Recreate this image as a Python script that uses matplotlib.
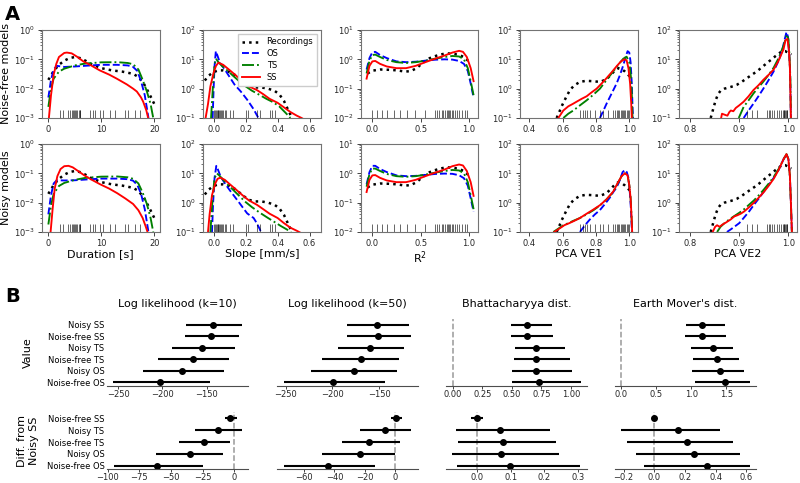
import numpy as np
import matplotlib
matplotlib.use("Agg")
import matplotlib.pyplot as plt

# ---------------- Panel A: density curves, (x, density) ----------------
# Duration [s]
dur_rec = [(0, 0.02), (1, 0.04), (2, 0.065), (3, 0.09), (4, 0.11), (5, 0.12), (6, 0.11), (7, 0.09),
           (8, 0.07), (10, 0.05), (12, 0.042), (14, 0.038), (16, 0.032), (17, 0.025), (18, 0.015),
           (19, 0.007), (20, 0.003)]
dur_os_nf = [(0, 0.005), (0.5, 0.02), (1, 0.045), (1.6, 0.06), (3, 0.055), (5, 0.057), (8, 0.062),
             (10, 0.065), (13, 0.065), (15, 0.062), (16, 0.055), (16.8, 0.04), (17.5, 0.018),
             (18.2, 0.006), (18.9, 0.001)]
dur_ts_nf = [(0, 0.0024), (0.5, 0.01), (1, 0.022), (2, 0.038), (3, 0.048), (5, 0.062), (7, 0.072),
             (10, 0.079), (13, 0.08), (15, 0.075), (16, 0.068), (17, 0.045), (17.8, 0.02),
             (18.6, 0.008), (19.3, 0.003), (19.8, 0.001)]
dur_ss_nf = [(0.05, 0.0008), (0.5, 0.006), (1, 0.03), (1.5, 0.07), (2, 0.12), (3, 0.165), (3.5, 0.17),
             (4.4, 0.16), (5.5, 0.12), (6.6, 0.085), (8, 0.063), (9.7, 0.042), (11.5, 0.03),
             (12.9, 0.022), (14.8, 0.014), (16, 0.01), (16.7, 0.008), (17.5, 0.005), (17.9, 0.0036),
             (18.5, 0.0018), (18.9, 0.0009)]
dur_os_ny = [(0, 0.004), (0.5, 0.018), (1, 0.045), (1.6, 0.058), (3, 0.057), (5, 0.058), (8, 0.063),
             (10, 0.066), (13, 0.066), (15, 0.063), (16, 0.056), (16.8, 0.04), (17.5, 0.02),
             (18.2, 0.006), (18.9, 0.001)]
dur_ts_ny = [(0, 0.0018), (0.5, 0.008), (1, 0.02), (2, 0.037), (3, 0.047), (5, 0.06), (7, 0.07),
             (10, 0.077), (13, 0.078), (15, 0.073), (16, 0.065), (17, 0.045), (17.8, 0.022),
             (18.6, 0.009), (19.3, 0.003), (19.8, 0.001)]
dur_ss_ny = [(0.4, 0.0009), (0.8, 0.006), (1.2, 0.03), (1.7, 0.08), (2.3, 0.14), (3, 0.175), (3.8, 0.18),
             (4.6, 0.16), (5.6, 0.12), (6.8, 0.085), (8, 0.063), (9.7, 0.043), (11.5, 0.03),
             (13, 0.021), (14.5, 0.014), (16, 0.009), (17, 0.0055), (17.8, 0.003), (18.4, 0.0015),
             (18.9, 0.0008)]

# Slope [mm/s]
slope_rec = [(-0.055, 1.9), (-0.03, 2.8), (0.0, 3.7), (0.03, 4.2), (0.06, 4.2), (0.1, 3.7), (0.14, 2.8),
             (0.18, 1.8), (0.22, 1.25), (0.26, 1.1), (0.3, 1.1), (0.34, 1.0), (0.38, 0.85), (0.41, 0.65),
             (0.44, 0.38), (0.46, 0.22), (0.48, 0.13), (0.5, 0.08)]
slope_os_nf = [(-0.006, 0.1), (0.0, 1.0), (0.006, 6), (0.014, 19), (0.025, 13), (0.04, 7.5), (0.07, 4.5),
               (0.1, 2.5), (0.13, 1.4), (0.17, 0.8), (0.21, 0.42), (0.25, 0.2), (0.28, 0.1)]
slope_ts_nf = [(-0.016, 0.1), (-0.005, 1.0), (0.005, 6), (0.015, 10.5), (0.03, 8), (0.055, 5.8),
               (0.09, 4.0), (0.12, 2.8), (0.16, 1.8), (0.2, 1.2), (0.24, 0.85), (0.29, 0.6), (0.33, 0.45),
               (0.37, 0.35), (0.41, 0.25), (0.45, 0.15), (0.48, 0.1)]
slope_ss_nf = [(-0.05, 0.1), (-0.035, 0.3), (-0.02, 1.2), (0.0, 3.5), (0.015, 6), (0.03, 7.7), (0.06, 6.5),
               (0.1, 4.3), (0.14, 2.8), (0.18, 1.8), (0.22, 1.2), (0.27, 0.9), (0.31, 0.65), (0.35, 0.45),
               (0.4, 0.33), (0.44, 0.23), (0.48, 0.16), (0.52, 0.12), (0.55, 0.1), (0.58, 0.08)]
slope_os_ny = [(-0.01, 0.1), (-0.003, 1.0), (0.006, 7), (0.017, 18), (0.028, 13), (0.045, 7.5),
               (0.075, 4.2), (0.1, 2.7), (0.126, 1.75), (0.16, 1.0), (0.19, 0.6), (0.21, 0.43),
               (0.25, 0.3), (0.27, 0.2), (0.29, 0.12), (0.3, 0.08)]
slope_ts_ny = [(-0.02, 0.1), (-0.008, 1.0), (0.005, 6.5), (0.02, 10), (0.035, 8.5), (0.06, 6), (0.09, 4.0),
               (0.12, 2.8), (0.16, 1.7), (0.2, 1.05), (0.24, 0.7), (0.29, 0.45), (0.34, 0.3), (0.38, 0.22),
               (0.42, 0.16), (0.46, 0.12), (0.49, 0.09)]
slope_ss_ny = [(-0.035, 0.1), (-0.025, 0.4), (-0.01, 1.8), (0.01, 4.5), (0.025, 6.5), (0.042, 7.1),
               (0.07, 6.0), (0.1, 4.3), (0.14, 2.8), (0.18, 1.8), (0.22, 1.2), (0.27, 0.85), (0.31, 0.6),
               (0.35, 0.42), (0.4, 0.3), (0.44, 0.2), (0.48, 0.14), (0.52, 0.11), (0.55, 0.09)]

# R^2
r2_rec = [(-0.05, 0.33), (0.0, 0.41), (0.08, 0.45), (0.17, 0.44), (0.26, 0.42), (0.34, 0.38), (0.4, 0.4),
          (0.46, 0.5), (0.52, 0.75), (0.58, 1.05), (0.64, 1.25), (0.7, 1.45), (0.77, 1.6), (0.84, 1.55),
          (0.9, 1.4), (0.95, 1.2), (1.0, 0.85)]
r2_os_nf = [(-0.06, 0.45), (-0.03, 1.1), (0.0, 1.75), (0.03, 1.8), (0.08, 1.4), (0.15, 1.1), (0.25, 0.85),
            (0.35, 0.8), (0.45, 0.83), (0.55, 0.9), (0.65, 0.97), (0.75, 1.0), (0.83, 0.98), (0.9, 0.88),
            (0.95, 0.7), (0.99, 0.4), (1.02, 0.15), (1.05, 0.05)]
r2_ts_nf = [(-0.06, 0.33), (-0.03, 0.9), (0.0, 1.4), (0.03, 1.45), (0.08, 1.2), (0.15, 0.95), (0.25, 0.8),
            (0.35, 0.75), (0.45, 0.8), (0.55, 0.9), (0.65, 1.05), (0.75, 1.2), (0.83, 1.3), (0.9, 1.25),
            (0.95, 1.0), (0.99, 0.5), (1.02, 0.18), (1.05, 0.06)]
r2_ss_nf = [(-0.06, 0.22), (-0.03, 0.6), (0.0, 0.85), (0.03, 0.88), (0.08, 0.7), (0.15, 0.57), (0.25, 0.5),
            (0.35, 0.5), (0.45, 0.6), (0.55, 0.8), (0.65, 1.05), (0.75, 1.35), (0.83, 1.7), (0.9, 1.95),
            (0.94, 1.8), (0.98, 1.2), (1.02, 0.5), (1.05, 0.18)]
r2_os_ny = [(-0.06, 0.42), (-0.03, 1.1), (0.0, 1.8), (0.03, 1.8), (0.08, 1.4), (0.15, 1.1), (0.25, 0.85),
            (0.35, 0.8), (0.45, 0.82), (0.55, 0.88), (0.65, 0.95), (0.75, 0.98), (0.83, 0.96), (0.9, 0.86),
            (0.95, 0.68), (0.99, 0.38), (1.02, 0.14), (1.05, 0.05)]
r2_ts_ny = [(-0.06, 0.35), (-0.03, 0.95), (0.0, 1.45), (0.03, 1.45), (0.08, 1.2), (0.15, 0.95), (0.25, 0.8),
            (0.35, 0.76), (0.45, 0.8), (0.55, 0.9), (0.65, 1.05), (0.75, 1.2), (0.83, 1.3), (0.9, 1.25),
            (0.95, 1.0), (0.99, 0.5), (1.02, 0.18), (1.05, 0.06)]
r2_ss_ny = [(-0.06, 0.23), (-0.03, 0.6), (0.0, 0.85), (0.03, 0.87), (0.08, 0.7), (0.15, 0.57), (0.25, 0.5),
            (0.35, 0.5), (0.45, 0.6), (0.55, 0.8), (0.65, 1.05), (0.75, 1.35), (0.83, 1.75), (0.9, 2.0),
            (0.94, 1.85), (0.98, 1.2), (1.02, 0.5), (1.05, 0.17)]

# PCA VE1
ve1_rec = [(0.564, 0.1), (0.58, 0.16), (0.594, 0.25), (0.62, 0.5), (0.644, 0.9), (0.67, 1.3), (0.704, 1.7),
           (0.74, 1.85), (0.78, 1.8), (0.824, 1.7), (0.864, 2.1), (0.89, 3.0), (0.915, 4.2), (0.935, 5.0),
           (0.955, 4.6), (0.975, 3.8), (0.995, 2.9), (1.02, 2.1)]
ve1_os_nf = [(0.824, 0.1), (0.845, 0.18), (0.864, 0.31), (0.895, 0.7), (0.924, 1.5), (0.945, 3.0),
             (0.964, 6.3), (0.98, 13), (0.99, 19), (1.0, 17), (1.008, 8), (1.015, 1.5), (1.02, 0.2),
             (1.024, 0.08)]
ve1_ts_nf = [(0.604, 0.1), (0.634, 0.14), (0.664, 0.18), (0.704, 0.27), (0.744, 0.4), (0.784, 0.62),
             (0.824, 1.0), (0.864, 2.0), (0.904, 3.9), (0.934, 6.5), (0.964, 10.5), (0.984, 12.3),
             (1.0, 8), (1.01, 2.5), (1.016, 0.5), (1.02, 0.08)]
ve1_ss_nf = [(0.574, 0.1), (0.604, 0.18), (0.634, 0.25), (0.66, 0.3), (0.684, 0.36), (0.714, 0.45),
             (0.744, 0.55), (0.774, 0.75), (0.804, 1.0), (0.834, 1.5), (0.864, 2.3), (0.894, 3.6),
             (0.924, 5.8), (0.95, 8.5), (0.97, 10), (0.984, 9.3), (0.995, 5), (1.005, 1.5), (1.012, 0.3),
             (1.016, 0.08)]
ve1_os_ny = [(0.704, 0.1), (0.734, 0.17), (0.764, 0.27), (0.794, 0.4), (0.824, 0.56), (0.854, 0.9),
             (0.884, 1.5), (0.904, 2.3), (0.924, 3.3), (0.944, 6), (0.96, 11), (0.974, 13), (0.985, 11),
             (0.995, 7), (1.004, 2), (1.01, 0.6), (1.016, 0.1)]
ve1_ts_ny = [(0.544, 0.1), (0.574, 0.13), (0.604, 0.17), (0.634, 0.2), (0.664, 0.24), (0.704, 0.3),
             (0.744, 0.4), (0.784, 0.55), (0.824, 0.8), (0.864, 1.3), (0.904, 2.3), (0.93, 4.5),
             (0.954, 8), (0.974, 10), (0.99, 8.5), (1.0, 4), (1.008, 1.5), (1.014, 0.3), (1.018, 0.08)]
ve1_ss_ny = [(0.55, 0.1), (0.58, 0.13), (0.61, 0.17), (0.64, 0.2), (0.67, 0.24), (0.704, 0.3), (0.744, 0.42),
             (0.784, 0.58), (0.824, 0.82), (0.864, 1.3), (0.904, 2.4), (0.93, 4.6), (0.954, 8), (0.974, 10),
             (0.99, 8.5), (1.0, 4), (1.008, 1.4), (1.014, 0.3), (1.018, 0.08)]

# PCA VE2
ve2_rec = [(0.842, 0.1), (0.847, 0.2), (0.852, 0.4), (0.857, 0.65), (0.862, 0.85), (0.87, 1.0), (0.879, 1.1),
           (0.887, 1.2), (0.895, 1.35), (0.905, 1.7), (0.916, 2.3), (0.926, 3.0), (0.936, 3.9),
           (0.947, 5.5), (0.957, 7.7), (0.966, 10), (0.974, 13), (0.981, 16), (0.987, 19), (0.993, 19),
           (0.998, 17.5), (1.006, 14.5)]
ve2_os_nf = [(0.909, 0.1), (0.919, 0.18), (0.929, 0.31), (0.939, 0.55), (0.949, 1.0), (0.96, 2.0),
             (0.97, 3.9), (0.98, 9), (0.987, 19), (0.992, 45), (0.996, 85), (0.999, 60), (1.001, 20),
             (1.003, 5.7), (1.004, 1), (1.005, 0.1)]
ve2_ts_nf = [(0.899, 0.1), (0.909, 0.24), (0.919, 0.4), (0.929, 0.69), (0.939, 1.1), (0.949, 1.74),
             (0.96, 3.0), (0.97, 5.2), (0.98, 11), (0.99, 29), (0.997, 70), (1.0, 49), (1.002, 15),
             (1.004, 2), (1.005, 0.1)]
ve2_ss_nf = [(0.862, 0.08), (0.865, 0.14), (0.87, 0.13), (0.876, 0.12), (0.88, 0.16), (0.883, 0.18),
             (0.888, 0.17), (0.893, 0.22), (0.9, 0.27), (0.909, 0.36), (0.919, 0.55), (0.929, 0.9),
             (0.939, 1.3), (0.949, 2.0), (0.96, 3.0), (0.97, 4.5), (0.98, 9), (0.99, 22), (0.994, 45),
             (0.998, 50), (1.001, 20), (1.003, 5), (1.005, 0.1)]
ve2_os_ny = [(0.875, 0.1), (0.882, 0.12), (0.89, 0.15), (0.9, 0.2), (0.909, 0.3), (0.92, 0.5), (0.93, 0.85),
             (0.94, 1.4), (0.95, 2.4), (0.96, 4), (0.97, 7), (0.98, 13), (0.99, 30), (0.996, 45), (1.0, 30),
             (1.003, 8), (1.005, 1), (1.007, 0.1)]
ve2_ts_ny = [(0.855, 0.1), (0.862, 0.15), (0.87, 0.2), (0.88, 0.27), (0.89, 0.35), (0.9, 0.45), (0.91, 0.6),
             (0.92, 0.85), (0.93, 1.2), (0.94, 1.8), (0.95, 2.8), (0.96, 4.5), (0.97, 7.5), (0.98, 14),
             (0.99, 30), (0.996, 45), (1.0, 30), (1.003, 8), (1.005, 1), (1.007, 0.1)]
ve2_ss_ny = [(0.846, 0.1), (0.851, 0.15), (0.855, 0.17), (0.86, 0.15), (0.866, 0.18), (0.873, 0.21),
             (0.883, 0.27), (0.89, 0.34), (0.896, 0.37), (0.903, 0.42), (0.91, 0.5), (0.92, 0.7), (0.93, 1.0),
             (0.94, 1.5), (0.95, 2.3), (0.96, 3.8), (0.97, 6.5), (0.98, 13), (0.99, 30), (0.996, 45),
             (1.0, 30), (1.003, 8), (1.005, 1), (1.007, 0.1)]

# rug marks (recorded values)
dur_rug = [2.2, 2.7, 3.8, 4.1, 4.4, 4.6, 4.8, 5.0, 5.2, 5.5, 5.7, 5.9, 6.0, 7.9, 8.5, 8.8, 9.7, 10.4,
           11.6, 12.6, 14.5, 15.1, 16.4, 17.3]
slope_rug = [0.005, 0.01, 0.015, 0.02, 0.025, 0.03, 0.035, 0.04, 0.045, 0.05, 0.06, 0.07, 0.08, 0.1,
             0.12, 0.2, 0.215, 0.274, 0.29, 0.354, 0.368, 0.383]
r2_rug = [0.0, 0.05, 0.1, 0.15, 0.22, 0.29, 0.36, 0.44, 0.55, 0.65, 0.67, 0.69, 0.72, 0.73, 0.75, 0.77,
          0.78, 0.79, 0.81, 0.83, 0.84, 0.86, 0.88, 0.9, 0.93, 0.96, 0.98]
ve1_rug = [0.704, 0.72, 0.734, 0.748, 0.764, 0.794, 0.824, 0.844, 0.874, 0.904, 0.914, 0.924, 0.934,
           0.94, 0.948, 0.954, 0.96, 0.968, 0.974, 0.984, 0.994, 1.0]
ve2_rug = [0.915, 0.926, 0.936, 0.957, 0.96, 0.963, 0.967, 0.97, 0.976, 0.981, 0.984, 0.988, 0.99,
           0.991, 0.993, 0.995, 0.997, 0.998]

a_xlabels = ["Duration [s]", "Slope [mm/s]", "R$^2$", "PCA VE1", "PCA VE2"]
a_xlims = [(-1.2, 21), (-0.065, 0.67), (-0.12, 1.1), (0.344, 1.05), (0.778, 1.017)]
a_ylims = [(1e-3, 1), (0.1, 100), (0.01, 10), (0.1, 100), (0.1, 100)]
a_xticks = [[0, 10, 20], [0.0, 0.2, 0.4, 0.6], [0.0, 0.5, 1.0], [0.4, 0.6, 0.8, 1.0], [0.8, 0.9, 1.0]]
a_rec = [dur_rec, slope_rec, r2_rec, ve1_rec, ve2_rec]
a_rug = [dur_rug, slope_rug, r2_rug, ve1_rug, ve2_rug]
a_nf = [[dur_os_nf, dur_ts_nf, dur_ss_nf], [slope_os_nf, slope_ts_nf, slope_ss_nf],
        [r2_os_nf, r2_ts_nf, r2_ss_nf], [ve1_os_nf, ve1_ts_nf, ve1_ss_nf], [ve2_os_nf, ve2_ts_nf, ve2_ss_nf]]
a_ny = [[dur_os_ny, dur_ts_ny, dur_ss_ny], [slope_os_ny, slope_ts_ny, slope_ss_ny],
        [r2_os_ny, r2_ts_ny, r2_ss_ny], [ve1_os_ny, ve1_ts_ny, ve1_ss_ny], [ve2_os_ny, ve2_ts_ny, ve2_ss_ny]]

# ---------------- Panel B: metric summaries (mean, low, high) ----------------
val_labels = ["Noisy SS", "Noise-free SS", "Noisy TS", "Noise-free TS", "Noisy OS", "Noise-free OS"]
diff_labels = val_labels[1:]
b_titles = ["Log likelihood (k=10)", "Log likelihood (k=50)", "Bhattacharyya dist.", "Earth Mover's dist."]

ll10_val = [-142.9, -145.0, -155.3, -165.4, -177.4, -202.3]
ll10_val_lo = [-173.7, -174.8, -189.0, -205.3, -221.8, -255.6]
ll10_val_hi = [-109.8, -113.5, -118.4, -124.8, -130.8, -145.9]
ll50_val = [-151.8, -150.7, -159.5, -169.6, -177.4, -199.5]
ll50_val_lo = [-184.4, -184.4, -193.9, -211.4, -222.6, -252.5]
ll50_val_hi = [-117.7, -116.0, -123.0, -128.2, -130.4, -144.0]
bh_val = [0.626, 0.626, 0.70, 0.705, 0.70, 0.727]
bh_val_lo = [0.49, 0.49, 0.528, 0.52, 0.503, 0.503]
bh_val_hi = [0.84, 0.845, 0.952, 0.99, 1.01, 1.084]
emd_val = [1.147, 1.156, 1.303, 1.365, 1.403, 1.479]
emd_val_lo = [0.919, 0.905, 0.99, 1.024, 1.005, 1.052]
emd_val_hi = [1.479, 1.488, 1.597, 1.682, 1.749, 1.839]

ll10_diff = [-2.9, -13.1, -24.2, -34.6, -60.9]
ll10_diff_lo = [-7.1, -31.0, -43.3, -61.7, -95.3]
ll10_diff_hi = [2.4, 6.6, -3.4, -8.7, -24.9]
ll50_diff = [0.6, -6.6, -17.1, -23.4, -44.0]
ll50_diff_lo = [-2.8, -23.4, -35.3, -48.0, -73.3]
ll50_diff_hi = [4.5, 10.1, 3.2, -0.4, -13.5]
bh_diff = [0.0, 0.069, 0.077, 0.072, 0.099]
bh_diff_lo = [-0.017, -0.063, -0.056, -0.074, -0.059]
bh_diff_hi = [0.016, 0.218, 0.236, 0.244, 0.308]
emd_diff = [0.0, 0.155, 0.216, 0.261, 0.341]
emd_diff_lo = [-0.005, -0.214, -0.175, -0.117, -0.065]
emd_diff_hi = [0.005, 0.43, 0.514, 0.557, 0.624]

val_xlims = [(-262.4, -103.4), (-259.8, -108.6), (-0.059, 1.135), (-0.09, 1.924)]
diff_xlims = [(-100.5, 11), (-77.8, 14.6), (-0.093, 0.327), (-0.255, 0.663)]
val_xticks = [[-250, -200, -150], [-250, -200, -150], [0.0, 0.25, 0.5, 0.75, 1.0], [0.0, 0.5, 1.0, 1.5]]
diff_xticks = [[-100, -75, -50, -25, 0], [-60, -40, -20, 0], [0.0, 0.1, 0.2, 0.3],
               [-0.2, 0.0, 0.2, 0.4, 0.6]]
val_fmt = ["{:.0f}", "{:.0f}", "{:.2f}", "{:.1f}"]
diff_fmt = ["{:.0f}", "{:.0f}", "{:.1f}", "{:.1f}"]

# ---------------- figure ----------------
plt.rcParams["font.family"] = "DejaVu Sans"
fig = plt.figure(figsize=(8, 4.83), dpi=100)

edge = "0.45"
styles = [dict(color="b", ls="--", lw=1.35, label="OS"),
          dict(color="g", ls="-.", lw=1.35, label="TS"),
          dict(color="r", ls="-", lw=1.35, label="SS")]

a_lefts = [0.0525, 0.254, 0.451, 0.65, 0.849]
a_bottoms = [0.7557, 0.5197]
for r, models in enumerate([a_nf, a_ny]):
    for c in range(5):
        ax = fig.add_axes([a_lefts[c], a_bottoms[r], 0.147, 0.1822])
        x, y = zip(*a_rec[c])
        ax.plot(x, y, color="k", ls=":", lw=1.8, label="Recordings")
        for pts, st in zip(models[c], styles):
            x, y = zip(*pts)
            ax.plot(x, y, **st)
        ax.vlines(a_rug[c], 0, 0.09, transform=ax.get_xaxis_transform(),
                  color="k", alpha=0.6, lw=0.7)
        ax.set_yscale("log")
        ax.set_xlim(a_xlims[c])
        ax.set_ylim(a_ylims[c])
        ax.set_xticks(a_xticks[c])
        ax.tick_params(labelsize=6, colors="0.15", length=3, width=0.6, pad=2)
        ax.tick_params(which="minor", length=1.5, width=0.4)
        for sp in ax.spines.values():
            sp.set_color(edge)
            sp.set_linewidth(0.8)
        if r == 1:
            ax.set_xlabel(a_xlabels[c], fontsize=8, labelpad=1)
        if c == 0:
            ax.set_ylabel(["Noise-free models", "Noisy models"][r], fontsize=8, labelpad=2)
        if r == 0 and c == 1:
            ax.legend(loc="upper right", fontsize=6, handlelength=2.2, borderpad=0.4,
                      labelspacing=0.35, framealpha=1, edgecolor="0.8", fancybox=False)

fig.text(0.006, 0.99, "A", fontsize=14, fontweight="bold", va="top")
fig.text(0.006, 0.405, "B", fontsize=14, fontweight="bold", va="top")

b_lefts = [0.134, 0.346, 0.5575, 0.769]
val_data = [(ll10_val, ll10_val_lo, ll10_val_hi), (ll50_val, ll50_val_lo, ll50_val_hi),
            (bh_val, bh_val_lo, bh_val_hi), (emd_val, emd_val_lo, emd_val_hi)]
diff_data = [(ll10_diff, ll10_diff_lo, ll10_diff_hi), (ll50_diff, ll50_diff_lo, ll50_diff_hi),
             (bh_diff, bh_diff_lo, bh_diff_hi), (emd_diff, emd_diff_lo, emd_diff_hi)]

for r, (data, labels, xlims, xticks, fmts, bottom, height) in enumerate([
        (val_data, val_labels, val_xlims, val_xticks, val_fmt, 0.2015, 0.1375),
        (diff_data, diff_labels, diff_xlims, diff_xticks, diff_fmt, 0.0283, 0.118)]):
    n = len(labels)
    ypos = np.arange(n)[::-1]
    for c in range(4):
        ax = fig.add_axes([b_lefts[c], bottom, 0.176, height])
        mean, lo, hi = data[c]
        ax.axvline(0, color="0.6", ls="--", lw=1.1, zorder=0)
        ax.hlines(ypos, lo, hi, color="k", lw=1.5)
        ax.plot(mean, ypos, "o", color="k", ms=4)
        ax.set_xlim(xlims[c])
        ax.set_ylim(-0.3, n - 0.5)
        ax.set_xticks(xticks[c])
        ax.set_xticklabels([fmts[c].format(t).replace("-", "\u2212") for t in xticks[c]])
        for s in ["top", "right", "left"]:
            ax.spines[s].set_visible(False)
        ax.spines["bottom"].set_color("0.3")
        ax.spines["bottom"].set_linewidth(0.8)
        ax.tick_params(axis="x", labelsize=6, colors="0.15", length=2, width=0.6, pad=1)
        if c == 0:
            ax.set_yticks(ypos)
            ax.set_yticklabels(labels)
            ax.tick_params(axis="y", length=0, labelsize=6, pad=2)
        else:
            ax.set_yticks([])
        if r == 0:
            ax.set_title(b_titles[c], fontsize=8, pad=9)

fig.text(0.035, 0.27, "Value", fontsize=8, rotation=90, ha="center", va="center")
fig.text(0.035, 0.087, "Diff. from\nNoisy SS", fontsize=8, rotation=90, ha="center", va="center",
         multialignment="center")

fig.savefig("out.png", dpi=100)
